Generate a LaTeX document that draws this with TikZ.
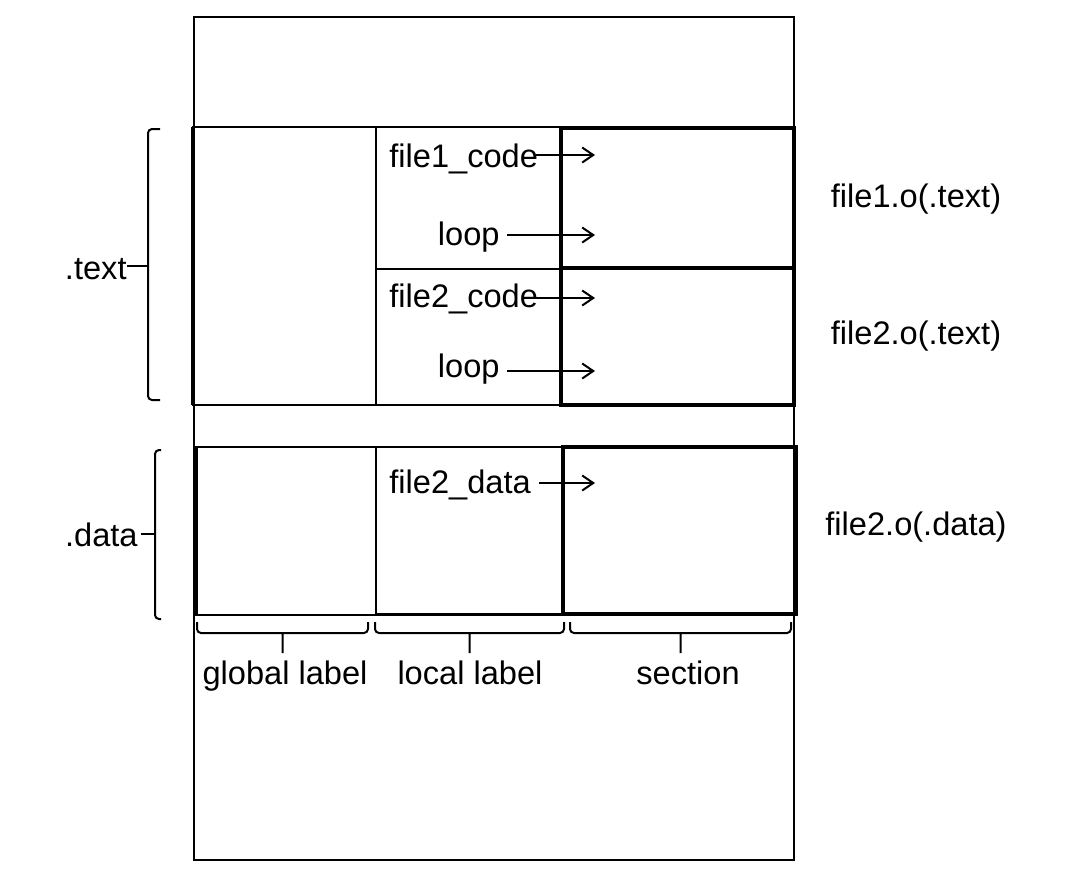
\documentclass[tikz,border=0pt]{standalone}
\usepackage{fontspec}
\setmainfont{Liberation Sans}
\usetikzlibrary{arrows.meta}
\tikzset{
  box/.style={line width=1pt},
  sect/.style={line width=1.8pt},
  lbl/.style={inner sep=0pt,font=\fontsize{16.3}{19}\selectfont},
  ref/.style={line width=1pt,-{Straight Barb[length=5.5pt,width=7.5pt]}},
  brk/.style={line width=1pt,rounded corners=2pt}
}
\begin{document}
\begin{tikzpicture}[x=0.5pt,y=-0.5pt]
    \useasboundingbox (0,0) rectangle (1078,895);
    \draw[box] (194,17) rectangle (794,860);

    % .text part
    \draw[box] (193,127) rectangle (794,405);
    \draw[sect] (193,127) -- (193,405);
    \draw[box] (376,127) -- (376,405);
    \draw[line width=1.4pt] (376,269) -- (561,269);
    \draw[sect] (561,128) rectangle (794,405);
    \draw[sect] (561,268) -- (794,268);

    % .data part
    \draw[box] (196,447) rectangle (795,615);
    \draw[sect] (196,447) -- (196,615);
    \draw[box] (376,447) -- (376,615);
    \draw[line width=1.4pt] (376,614) -- (563,614);
    \draw[sect] (563,447) rectangle (796,614);

    \node[lbl,anchor=base west] (f1code) at (389,167) {file1\_code};
    \node[lbl,anchor=base east] (f1loop) at (500,245) {loop};
    \node[lbl,anchor=base west] (f2code) at (389,307) {file2\_code};
    \node[lbl,anchor=base east] (f2loop) at (500,377) {loop};
    \node[lbl,anchor=base west] (f2data) at (389,493) {file2\_data};

    \coordinate (a1) at (595,155);
    \coordinate (a2) at (595,235);
    \coordinate (a3) at (595,298);
    \coordinate (a4) at (595,371);
    \coordinate (a5) at (595,483);
    \draw[ref] ([xshift=-1]f1code.east |- a1) -- (a1);
    \draw[ref] ([xshift=3.5]f1loop.east |- a2) -- (a2);
    \draw[ref] ([xshift=-1]f2code.east |- a3) -- (a3);
    \draw[ref] ([xshift=3.5]f2loop.east |- a4) -- (a4);
    \draw[ref] ([xshift=4]f2data.east |- a5) -- (a5);

    \node[lbl] (o1text) at (916,199) {file1.o(.text)};
    \node[lbl] (o2text) at (916,336) {file2.o(.text)};
    \node[lbl] (o2data) at (916,527) {file2.o(.data)};

    % left brackets
    \node[lbl,anchor=base east] (tlabel) at (127,279) {.text};
    \draw[brk] (160,129) -- (148,129) -- (148,400) -- (160,400);
    \coordinate (tmid) at (148,266);
    \draw[box] (tlabel.east |- tmid) -- (tmid);
    \node[lbl,anchor=base east] (dlabel) at (138,546) {.data};
    \draw[brk] (161,450) -- (155,450) -- (155,619) -- (161,619);
    \coordinate (dmid) at (155,534);
    \draw[box] ([xshift=1.5]dlabel.east |- dmid) -- (dmid);

    % bottom brackets
    \foreach \a/\b in {197/368, 375/564, 570/791}
      \draw[brk] (\a,622) -- (\a,633) -- (\b,633) -- (\b,622)
        ({(\a+\b)/2},633) -- ({(\a+\b)/2},653);
    \node[lbl,anchor=base] (glabel) at (285,684) {global label};
    \node[lbl,anchor=base] (llabel) at (470,684) {local label};
    \node[lbl,anchor=base] (slabel) at (688,684) {section};
\end{tikzpicture}
\end{document}
